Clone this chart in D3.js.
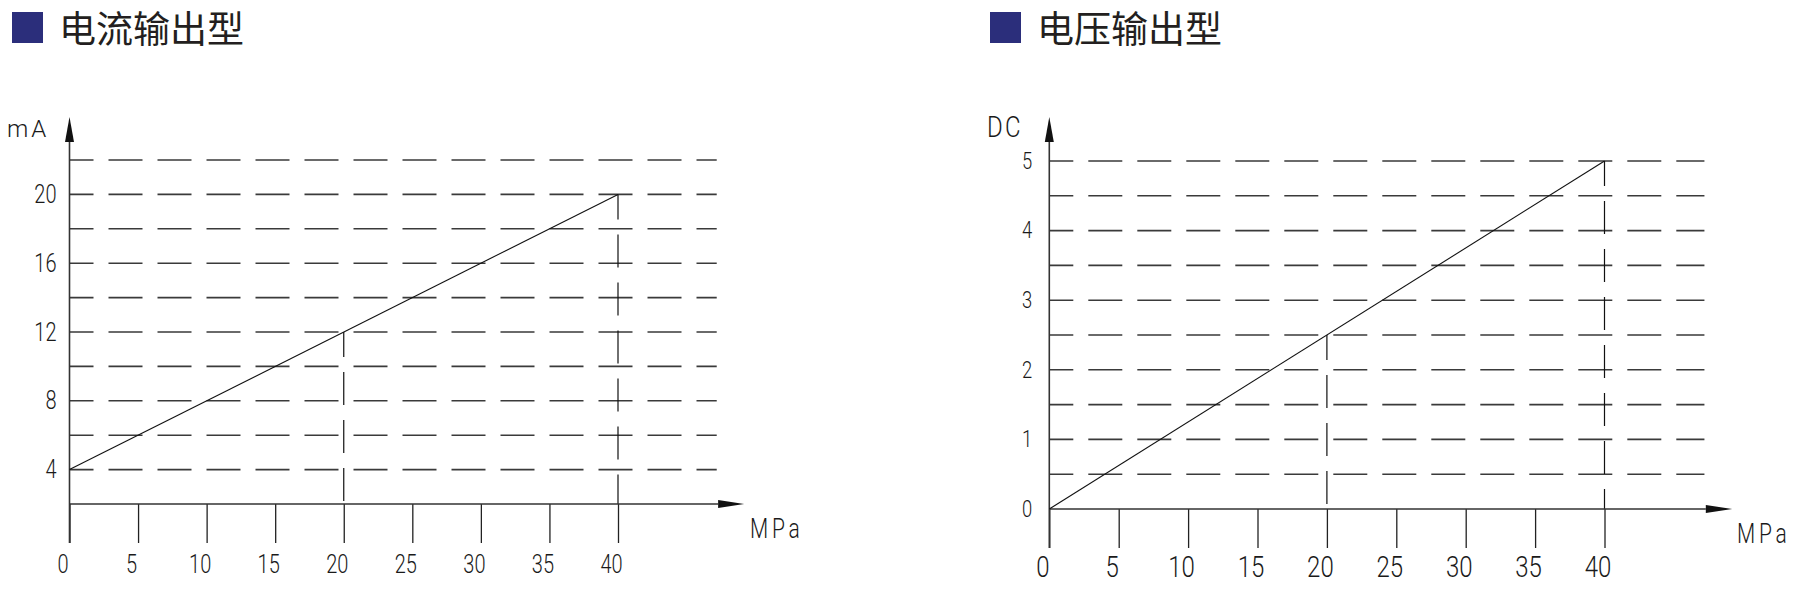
<!DOCTYPE html>
<html>
<head>
<meta charset="utf-8">
<script src="https://cdn.jsdelivr.net/npm/d3@7"></script>
<style>
  body { margin: 0; background: #fff; }
  text { font-family: Roboto, Lato, "Liberation Sans", sans-serif; font-weight: 300; fill: #1a1a1a; }
  text.title { font-family: "Noto Sans CJK SC", sans-serif; font-weight: 400; fill: #231f20; }
</style>
</head>
<body>
<svg class="chart" width="1810" height="610"></svg>
<script>
// pressure axis, shared by both panels
var pressureTicks = [0, 5, 10, 15, 20, 25, 30, 35, 40];
var dropPressure = [20, 40];

// current output panel
var currentTicks = [4, 8, 12, 16, 20];
var currentGrid = [4, 6, 8, 10, 12, 14, 16, 18, 20, 22];
var currentPressure = [0, 40];
var currentOutput = [4, 20];
var currentDrops = [12, 20];

// voltage output panel
var voltageTicks = [0, 1, 2, 3, 4, 5];
var voltageGrid = [0.5, 1, 1.5, 2, 2.5, 3, 3.5, 4, 4.5, 5];
var voltagePressure = [0, 40];
var voltageOutput = [0, 5];
var voltageDrops = [2.5, 5];

(function outputChartsIIFE() {
    var svg = d3.select("svg.chart");
    var SX = 0.8; // squeeze glyphs horizontally, like the narrow CAD lettering

    function drawPanel(o) {
        var g = svg.append("g");

        var x = d3.scaleLinear().domain([0, 40]).range([o.left, o.right]),
            y = d3.scaleLinear().domain(o.yDomain).range([o.bottom, o.top]);

        var axisY = y(o.yDomain[0]),
            tickLen = 39;

        // heading
        g.append("rect")
            .attr("x", o.titleX).attr("y", 12)
            .attr("width", 31).attr("height", 31)
            .attr("fill", "#2b2e7b");
        g.append("text")
            .attr("class", "title")
            .attr("x", o.titleX + 47).attr("y", 43)
            .style("font-size", "37px")
            .text(o.title);

        // dashed grid
        g.selectAll(".grid")
            .data(o.grid)
            .enter()
            .append("line")
            .attr("class", "grid")
            .attr("x1", x(0)).attr("x2", x(47.2))
            .attr("y1", function(d) { return y(d); })
            .attr("y2", function(d) { return y(d); })
            .attr("stroke", "#3a3a3a")
            .attr("stroke-width", 1.6)
            .attr("stroke-dasharray", "34,15")
            .attr("stroke-dashoffset", 10);

        // drop lines
        g.selectAll(".drop")
            .data(d3.zip(dropPressure, o.drops))
            .enter()
            .append("line")
            .attr("class", "drop")
            .attr("x1", function(d) { return x(d[0]); })
            .attr("x2", function(d) { return x(d[0]); })
            .attr("y1", function(d) { return y(d[1]); })
            .attr("y2", axisY)
            .attr("stroke", "#111")
            .attr("stroke-width", 1.2)
            .attr("stroke-dasharray", "33,15")
            .attr("stroke-dashoffset", 8);

        // x axis ticks + labels
        var xa = g.append("g")
            .attr("transform", "translate(0," + axisY + ")")
            .call(d3.axisBottom(x).tickValues(pressureTicks).tickSize(tickLen).tickFormat(d3.format("d")));
        xa.select(".domain").remove();
        xa.selectAll(".tick line").attr("stroke", "#222").attr("stroke-width", 1.3);
        xa.selectAll(".tick text")
            .attr("y", o.xLabelY).attr("dy", 0).attr("x", -7 / SX)
            .attr("transform", "scale(" + SX + ",1)")
            .attr("fill", "#1a1a1a")
            .style("font-size", o.xFont + "px");

        // y labels
        var ya = g.append("g")
            .attr("transform", "translate(" + x(0) + ",0)")
            .call(d3.axisLeft(y).tickValues(o.ticks).tickSize(0).tickFormat(d3.format("d")));
        ya.select(".domain").remove();
        ya.selectAll(".tick text")
            .attr("x", -o.yLabelGap / SX)
            .attr("transform", "scale(" + SX + ",1)")
            .attr("fill", "#1a1a1a")
            .style("font-size", o.yFont + "px");

        // axis lines with arrows
        g.append("line")
            .attr("x1", x(0)).attr("x2", x(47.3))
            .attr("y1", axisY).attr("y2", axisY)
            .attr("stroke", "#333").attr("stroke-width", 1.6);
        g.append("path")
            .attr("d", "M" + x(47.3) + "," + (axisY - 4) + "L" + x(49.2) + "," + axisY + "L" + x(47.3) + "," + (axisY + 4) + "Z")
            .attr("fill", "#111");

        g.append("line")
            .attr("x1", x(0)).attr("x2", x(0))
            .attr("y1", axisY + tickLen).attr("y2", 141)
            .attr("stroke", "#333").attr("stroke-width", 1.6);
        g.append("path")
            .attr("d", "M" + (x(0) - 4.5) + ",142L" + x(0) + ",117L" + (x(0) + 4.5) + ",142Z")
            .attr("fill", "#111");

        // output line
        var line = d3.line()
            .x(function(d) { return x(d[0]); })
            .y(function(d) { return y(d[1]); });
        g.append("path")
            .datum(d3.zip(o.pressure, o.output))
            .attr("d", line)
            .attr("fill", "none")
            .attr("stroke", "#111")
            .attr("stroke-width", 1.1);

        // unit labels
        g.append("text")
            .attr("x", o.unitX / o.unitSX).attr("y", 137)
            .attr("transform", "scale(" + o.unitSX + ",1)")
            .style("font-size", o.unitFont + "px")
            .style("letter-spacing", o.unitSpacing + "px")
            .text(o.unit);
        g.append("text")
            .attr("x", o.mpaX / 0.75).attr("y", o.mpaY)
            .attr("transform", "scale(0.75,1)")
            .style("font-size", "28px")
            .style("letter-spacing", "5px")
            .text("MPa");
    }

    drawPanel({
        title: "电流输出型", titleX: 12,
        left: 69.5, right: 618, bottom: 504, top: 160, yDomain: [2, 22],
        grid: currentGrid, ticks: currentTicks, drops: currentDrops,
        pressure: currentPressure, output: currentOutput,
        xLabelY: 69, xFont: 25, yFont: 25, yLabelGap: 13,
        unit: "mA", unitX: 7, unitFont: 24, unitSpacing: 3, unitSX: 1,
        mpaX: 750, mpaY: 538
    });

    drawPanel({
        title: "电压输出型", titleX: 990,
        left: 1049.3, right: 1604.5, bottom: 509, top: 161, yDomain: [0, 5],
        grid: voltageGrid, ticks: voltageTicks, drops: voltageDrops,
        pressure: voltagePressure, output: voltageOutput,
        xLabelY: 68, xFont: 30, yFont: 23, yLabelGap: 17,
        unit: "DC", unitX: 987, unitFont: 30, unitSpacing: 3, unitSX: 0.8,
        mpaX: 1737, mpaY: 543
    });
})();
</script>
</body>
</html>
